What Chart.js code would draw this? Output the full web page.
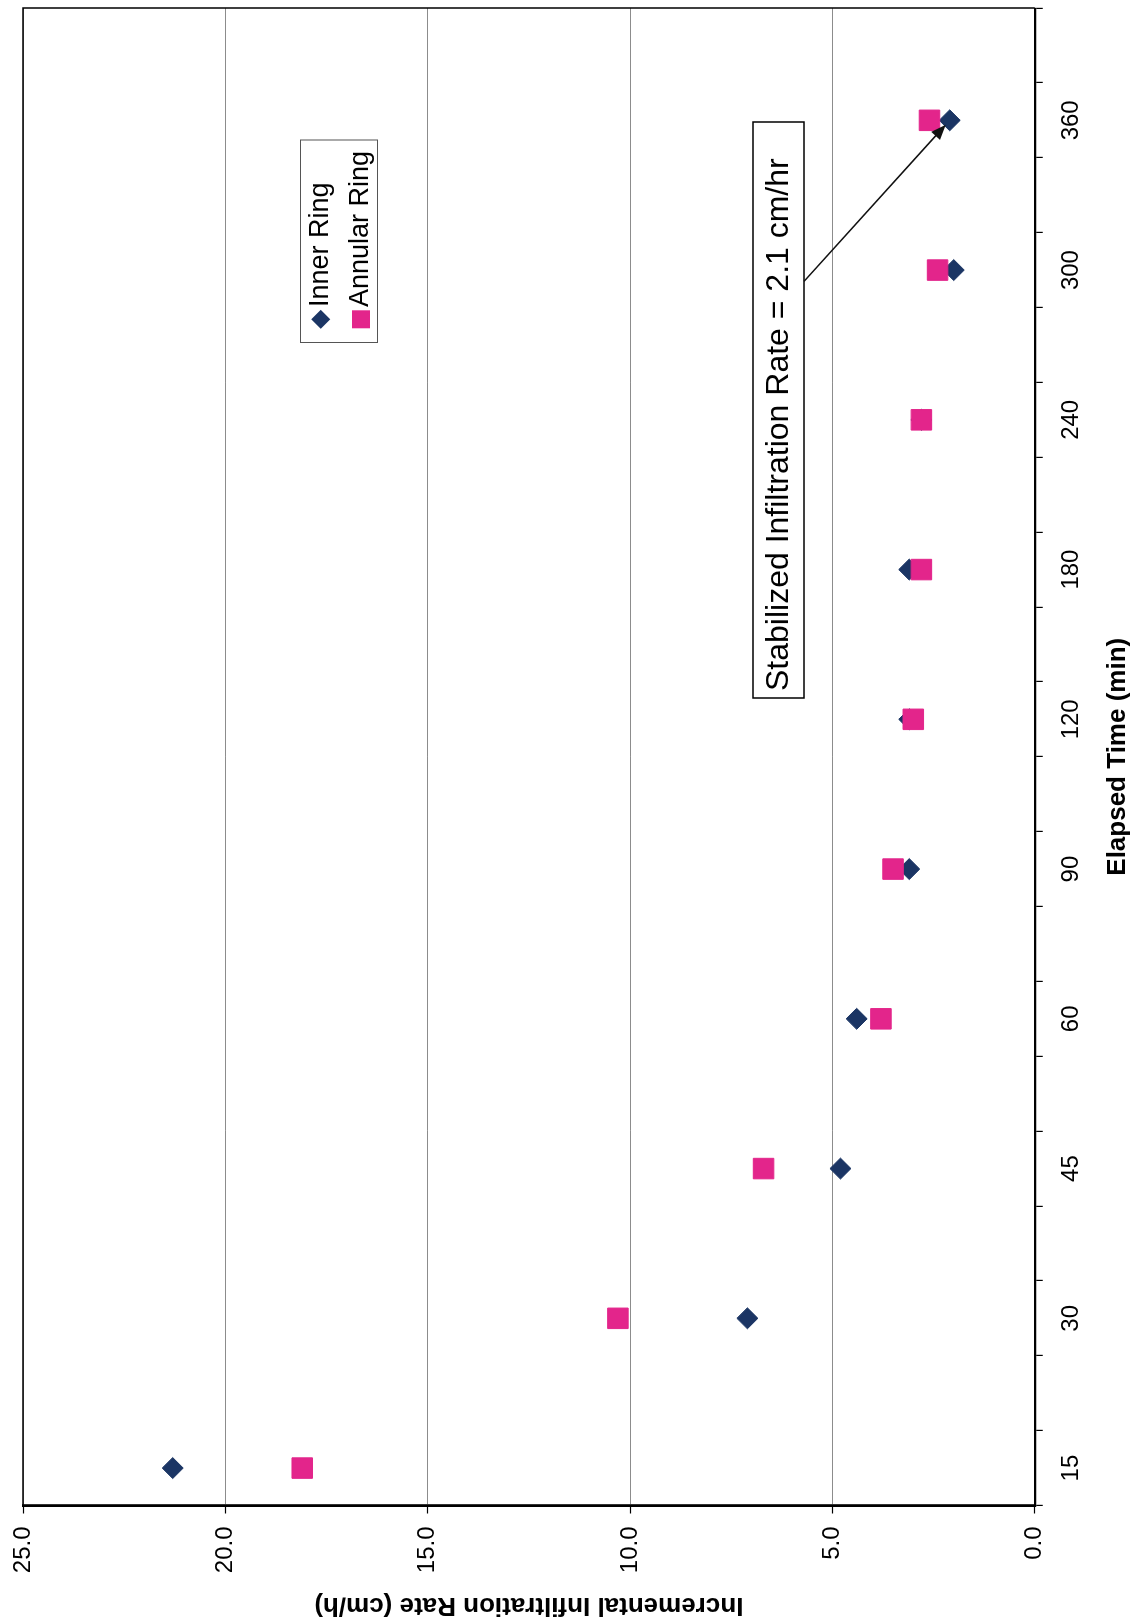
<!DOCTYPE html>
<html>
<head>
<meta charset="utf-8">
<script src="https://cdn.jsdelivr.net/npm/chart.js@4.4.1/dist/chart.umd.min.js"></script>
<style>
  html, body { margin: 0; padding: 0; background: #fff; overflow: hidden; }
  body { width: 1135px; height: 1622px; position: relative; }
  /* the chart is printed sideways on the page: turned a quarter turn counter-clockwise */
  #wrap {
    position: absolute; left: 0; top: 0;
    width: 1622px; height: 1135px;
    transform-origin: 0 0;
    transform: translate(0, 1622px) rotate(-90deg);
  }
  canvas { display: block; }
</style>
</head>
<body>
<div id="wrap"><canvas id="c" width="1622" height="1135"></canvas></div>
<script>
// Double-ring infiltrometer test readings
const elapsedMin  = ['15', '30', '45', '60', '90', '120', '180', '240', '300', '360'];
const innerRing   = [21.3, 7.1, 4.8, 4.4, 3.1, 3.1, 3.1, 2.8, 2.0, 2.1];
const annularRing = [18.1, 10.3, 6.7, 3.8, 3.5, 3.0, 2.8, 2.8, 2.4, 2.6];
const rateTicks   = [0, 5, 10, 15, 20, 25];
const seriesNames = ['Inner Ring', 'Annular Ring'];
const stabilizedRate = 2.1;
const noteText = 'Stabilized Infiltration Rate = ' + stabilizedRate.toFixed(1) + ' cm/hr';

// Each reading sits in its own slot followed by an empty slot on the time axis
const slotLabels = [], innerSlots = [], annularSlots = [];
elapsedMin.forEach((m, i) => {
  slotLabels.push(m, '');
  innerSlots.push(innerRing[i], null);
  annularSlots.push(annularRing[i], null);
});

const FONT = '"Liberation Sans", Arial, sans-serif';
const NAVY = '#1b3564';
const PINK = '#e3258b';

function diamond(ctx, x, y, r) {
  ctx.beginPath();
  ctx.moveTo(x - r, y); ctx.lineTo(x, y - r); ctx.lineTo(x + r, y); ctx.lineTo(x, y + r);
  ctx.closePath(); ctx.fill();
}

const decorations = {
  id: 'decorations',
  afterDraw(chart) {
    const { ctx, chartArea: a, scales } = chart;
    ctx.save();

    // plot frame on the sides that carry no axis line
    ctx.strokeStyle = '#000';
    ctx.lineWidth = 1.5;
    ctx.beginPath();
    ctx.moveTo(a.left, a.top);
    ctx.lineTo(a.right, a.top);
    ctx.lineTo(a.right, a.bottom);
    ctx.stroke();

    // legend box
    ctx.fillStyle = '#fff';
    ctx.fillRect(1279.5, 300.5, 202.5, 77);
    ctx.strokeStyle = '#555';
    ctx.lineWidth = 1;
    ctx.strokeRect(1279.5, 300.5, 202.5, 77);
    ctx.fillStyle = NAVY;
    diamond(ctx, 1302.7, 320.7, 9.5);
    ctx.fillStyle = PINK;
    ctx.fillRect(1302.7 - 9, 361 - 9, 18, 18);
    ctx.fillStyle = '#000';
    ctx.font = '27px ' + FONT;
    ctx.textAlign = 'left';
    ctx.textBaseline = 'middle';
    ctx.fillText(seriesNames[0], 1315, 321);
    ctx.fillText(seriesNames[1], 1315, 361);

    // annotation box
    ctx.fillStyle = '#fff';
    ctx.fillRect(924, 753, 576, 51);
    ctx.strokeStyle = '#000';
    ctx.lineWidth = 1.5;
    ctx.strokeRect(924, 753, 576, 51);
    ctx.fillStyle = '#000';
    ctx.font = '32px ' + FONT;
    ctx.fillText(noteText, 931, 779);

    // arrow from the note to the last inner-ring reading
    const last = elapsedMin.length - 1;
    const tx = scales.x.getPixelForValue(last * 2);
    const ty = scales.y.getPixelForValue(innerRing[last]);
    const sx = 1340.6, sy = 804;
    const dx = tx - sx, dy = ty - sy, len = Math.hypot(dx, dy);
    const ux = dx / len, uy = dy / len;
    const ex = tx - ux * 6, ey = ty - uy * 6;
    const head = 15, half = 6;
    ctx.strokeStyle = '#111';
    ctx.lineWidth = 1.6;
    ctx.beginPath();
    ctx.moveTo(sx, sy);
    ctx.lineTo(ex - ux * head * 0.8, ey - uy * head * 0.8);
    ctx.stroke();
    ctx.fillStyle = '#111';
    ctx.beginPath();
    ctx.moveTo(ex, ey);
    ctx.lineTo(ex - ux * head - uy * half, ey - uy * head + ux * half);
    ctx.lineTo(ex - ux * head + uy * half, ey - uy * head - ux * half);
    ctx.closePath();
    ctx.fill();

    ctx.restore();
  }
};

new Chart(document.getElementById('c'), {
  type: 'line',
  data: {
    labels: slotLabels,
    datasets: [
      {
        label: seriesNames[0],
        data: innerSlots,
        showLine: false,
        pointStyle: 'rectRot',
        pointRadius: 10.5,
        pointBackgroundColor: NAVY,
        pointBorderColor: NAVY,
        pointBorderWidth: 1,
        order: 2
      },
      {
        label: seriesNames[1],
        data: annularSlots,
        showLine: false,
        pointStyle: 'rect',
        pointRadius: 14.5,
        pointBackgroundColor: PINK,
        pointBorderColor: PINK,
        pointBorderWidth: 1,
        order: 1
      }
    ]
  },
  options: {
    responsive: false,
    animation: false,
    devicePixelRatio: 1,
    events: [],
    layout: { autoPadding: false, padding: { top: 23, right: 8, left: 0, bottom: 0 } },
    plugins: { legend: { display: false }, tooltip: { enabled: false } },
    scales: {
      x: {
        type: 'category',
        offset: true,
        afterFit: s => { s.height = 100.3; s.paddingLeft = 0; s.paddingRight = 0; },
        grid: { offset: true, drawOnChartArea: false, drawTicks: true, tickLength: 8, color: '#000', lineWidth: 1.2 },
        border: { display: true, color: '#000', width: 2.2 },
        ticks: { autoSkip: false, maxRotation: 0, minRotation: 0, padding: 14, color: '#000', font: { family: FONT, size: 24 } },
        title: { display: true, text: 'Elapsed Time (min)', color: '#000', padding: { top: 0, bottom: 2 }, font: { family: FONT, size: 26, weight: 'bold' } }
      },
      y: {
        type: 'linear',
        min: 0,
        max: 25,
        afterFit: s => { s.width = 116.5; s.paddingTop = 0; s.paddingBottom = 0; },
        afterBuildTicks: s => { s.ticks = rateTicks.map(v => ({ value: v })); },
        grid: { color: '#8c8c8c', lineWidth: 1, tickLength: 8, tickColor: '#000', tickWidth: 1.2 },
        border: { display: true, color: '#000', width: 2.8 },
        ticks: { padding: 13, color: '#000', font: { family: FONT, size: 24 }, callback: v => Number(v).toFixed(1) },
        title: { display: true, text: 'Incremental Infiltration Rate (cm/h)', color: '#000', padding: { top: 1, bottom: 0 }, font: { family: FONT, size: 26, weight: 'bold' } }
      }
    }
  },
  plugins: [decorations]
});
</script>
</body>
</html>
